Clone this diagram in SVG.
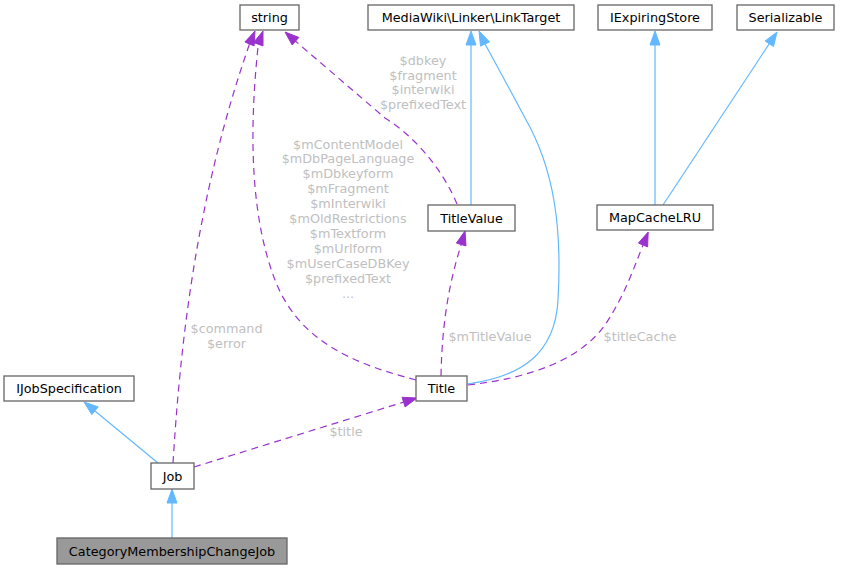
<svg xmlns="http://www.w3.org/2000/svg" width="841" height="569" viewBox="0 0 841 569">
<style>
.n rect{fill:#fff;stroke:#666;stroke-width:1.3}
.n text{font-family:"DejaVu Sans",sans-serif;font-size:12.8px;fill:#000;text-anchor:middle}
.lbl{font-family:"DejaVu Sans",sans-serif;font-size:12.8px;fill:#c0c0c0;text-anchor:middle}
.inh{fill:none;stroke:#63b8ff;stroke-width:1.2}
.use{fill:none;stroke:#9a32cd;stroke-width:1.2;stroke-dasharray:7,5}
.ah{fill:#63b8ff;stroke:#63b8ff}
.ap{fill:#9a32cd;stroke:#9a32cd}
</style>
<rect width="841" height="569" fill="#fff"/>
<g id="edges">
  <path class="inh" d="M172,538 L172,503"/>
  <polygon class="ah" points="172,489 177,503 167,503"/>
  <path class="inh" d="M158,463 L95,411"/>
  <polygon class="ah" points="84,402 98.2,406.9 91.8,414.6"/>
  <path class="use" d="M173,463 C180,350 195,200 249.5,44"/>
  <polygon class="ap" points="255,31 254.1,45.9 244.9,42"/>
  <path class="use" d="M416,380 C360,365 300,345 275,280 C252,220 248,140 258.3,44.2"/>
  <polygon class="ap" points="263,31 263,45.9 253.6,42.5"/>
  <path class="use" d="M457,204 C445,175 420,140 385,118 L295.5,41.2"/>
  <polygon class="ap" points="285,32 298.8,37.4 292.2,45"/>
  <path class="inh" d="M471,205 L471,45"/>
  <polygon class="ah" points="471,31 476,45 466,45"/>
  <path class="inh" d="M467,384 C520,377 555,355 558,300 C562,230 555,170 525,118 C510,90 495,62 485,44"/>
  <polygon class="ah" points="479,31 489.5,41.9 480.5,46.1"/>
  <path class="use" d="M441,376 C442,320 450,280 461.2,244.5"/>
  <polygon class="ap" points="465,231 466,245.9 456.4,243.1"/>
  <path class="use" d="M468,385 C530,378 580,360 605,325 C625,295 635,265 643,245"/>
  <polygon class="ap" points="648.2,232 647.6,246.9 638.4,243.1"/>
  <path class="inh" d="M655,205 L655,45"/>
  <polygon class="ah" points="655,31 660,45 650,45"/>
  <path class="inh" d="M663,205 L769.3,43.7"/>
  <polygon class="ah" points="777,32 773.5,46.5 765.1,41"/>
  <path class="use" d="M194,467 L403.6,402.1"/>
  <polygon class="ap" points="417,398 405.1,406.9 402.1,397.3"/>
</g>
<g id="labels">
  <text class="lbl" x="423" y="65">$dbkey</text>
  <text class="lbl" x="423" y="79.5">$fragment</text>
  <text class="lbl" x="423" y="94">$interwiki</text>
  <text class="lbl" x="423" y="108.5">$prefixedText</text>
  <text class="lbl" x="348" y="148.5">$mContentModel</text>
  <text class="lbl" x="348" y="163.4">$mDbPageLanguage</text>
  <text class="lbl" x="348" y="178.3">$mDbkeyform</text>
  <text class="lbl" x="348" y="193.2">$mFragment</text>
  <text class="lbl" x="348" y="208.1">$mInterwiki</text>
  <text class="lbl" x="348" y="223">$mOldRestrictions</text>
  <text class="lbl" x="348" y="237.9">$mTextform</text>
  <text class="lbl" x="348" y="252.8">$mUrlform</text>
  <text class="lbl" x="348" y="267.7">$mUserCaseDBKey</text>
  <text class="lbl" x="348" y="282.6">$prefixedText</text>
  <text class="lbl" x="348" y="297.5">...</text>
  <text class="lbl" x="490" y="341">$mTitleValue</text>
  <text class="lbl" x="640" y="341">$titleCache</text>
  <text class="lbl" x="226.5" y="333">$command</text>
  <text class="lbl" x="226.5" y="348">$error</text>
  <text class="lbl" x="346" y="436">$title</text>
</g>
<g id="node-string" class="n"><rect x="240" y="5" width="59" height="25"/><text x="269.5" y="22">string</text></g>
<g id="node-linktarget" class="n"><rect x="368" y="5" width="206" height="25"/><text x="471" y="22">MediaWiki\Linker\LinkTarget</text></g>
<g id="node-iexpiringstore" class="n"><rect x="598" y="5" width="114" height="25"/><text x="655" y="22">IExpiringStore</text></g>
<g id="node-serializable" class="n"><rect x="737" y="5" width="97" height="25"/><text x="785.5" y="22">Serializable</text></g>
<g id="node-titlevalue" class="n"><rect x="428" y="205" width="87" height="26"/><text x="471.5" y="222.5">TitleValue</text></g>
<g id="node-mapcachelru" class="n"><rect x="597" y="205" width="116" height="25"/><text x="655" y="222">MapCacheLRU</text></g>
<g id="node-title" class="n"><rect x="416" y="376" width="51" height="25"/><text x="441.5" y="393">Title</text></g>
<g id="node-ijobspecification" class="n"><rect x="4" y="376" width="130" height="25"/><text x="69" y="393">IJobSpecification</text></g>
<g id="node-job" class="n"><rect x="151" y="463" width="43" height="26"/><text x="172.5" y="480.5">Job</text></g>
<g id="node-categorymembershipchangejob" class="n"><rect x="57" y="538" width="230" height="26" style="fill:#999"/><text x="172" y="555.5">CategoryMembershipChangeJob</text></g>
</svg>
